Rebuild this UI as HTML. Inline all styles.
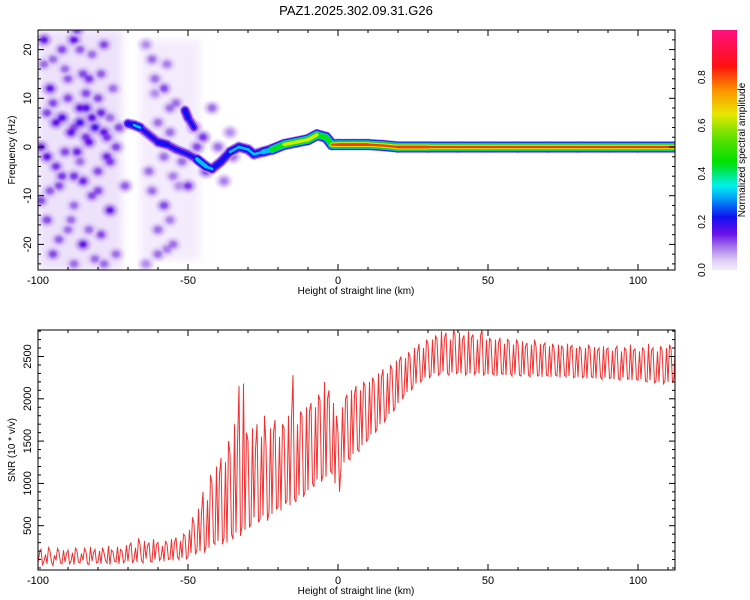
<!DOCTYPE html>
<html><head><meta charset="utf-8"><style>
html,body{margin:0;padding:0;background:#fff;}
svg{display:block;font-family:"Liberation Sans",sans-serif;}
</style></head><body>
<svg id="chart" width="750" height="600" viewBox="0 0 750 600">
<defs>
<filter id="blur" x="-50%" y="-50%" width="200%" height="200%"><feGaussianBlur stdDeviation="1.4"/></filter>
<filter id="blur2" x="-20%" y="-20%" width="140%" height="140%"><feGaussianBlur stdDeviation="4"/></filter>
<clipPath id="clipTop"><rect x="38" y="30" width="637" height="240"/></clipPath>
<clipPath id="clipBot"><rect x="38" y="330" width="637" height="240"/></clipPath>
<linearGradient id="cbar" x1="0" y1="1" x2="0" y2="0">
<stop offset="0" stop-color="#f4ecff"/><stop offset="0.04" stop-color="#e0cdf8"/>
<stop offset="0.1" stop-color="#a070e8"/><stop offset="0.15" stop-color="#6a10e8"/>
<stop offset="0.22" stop-color="#1010f0"/><stop offset="0.3" stop-color="#00a0f8"/>
<stop offset="0.35" stop-color="#00f0f0"/><stop offset="0.45" stop-color="#00e000"/>
<stop offset="0.55" stop-color="#60e000"/><stop offset="0.65" stop-color="#e8e800"/>
<stop offset="0.75" stop-color="#ff9000"/><stop offset="0.85" stop-color="#ff1010"/>
<stop offset="1" stop-color="#ff1080"/>
</linearGradient>
</defs>
<text x="356" y="15" font-size="13" text-anchor="middle">PAZ1.2025.302.09.31.G26</text>
<g id="top"></g>
<g id="bot"></g>
<g id="cb"></g>
</svg>
<script>
// ---- data ----
const snrStartKm = -100;
const snrLo = [60,40,80,50,70,30,90,60,50,70, 50,80,40,70,60,90,50,40,80,60, 70,50,90,60,40,80,70,50,60,90,
 80,60,100,70,90,60,110,80,70,100, 90,120,80,100,110,90,130,100,120,110, 140,180,160,220,200,180,260,240,300,280,
 320,280,360,300,400,340,420,380,500,450, 480,520,600,540,580,620,560,660,640,700, 720,680,760,800,740,820,780,860,840,900,
 920,1000,960,1050,1020,1100,1080,1150,1120,1000, 900,1200,1250,1300,1280,1350,1400,1380,1450,1500,
 1520,1580,1600,1650,1700,1720,1780,1820,1850,1900, 1950,2000,2050,2080,2100,2150,2180,2200,2220,2250,
 2250,2280,2300,2280,2300,2320,2300,2280,2310,2300, 2320,2300,2280,2310,2300,2290,2320,2300,2280,2300,
 2290,2300,2280,2270,2300,2290,2280,2300,2270,2290, 2280,2270,2290,2280,2260,2290,2270,2280,2260,2280,
 2270,2260,2280,2270,2250,2280,2260,2270,2250,2260, 2260,2250,2270,2240,2260,2250,2240,2260,2230,2250,
 2240,2250,2230,2240,2220,2250,2230,2240,2220,2230, 2220,2230,2210,2200,2220,2190,2210,2200,2180,2210,2200,2190,2250];
const snrHi = [180,220,160,240,200,150,230,190,210,170, 210,180,240,200,170,230,190,250,180,220, 200,240,180,260,210,190,250,220,200,270,
 260,300,240,350,280,320,260,300,340,280, 300,260,320,280,340,300,360,320,400,380, 450,600,520,700,650,900,800,1100,1000,1200,
 1100,1300,1250,1500,1350,1700,1450,2150,2180,1600, 1500,1650,1400,1700,1550,1800,1450,1650,1600,1750,
 1550,1700,1650,1800,1750,2280,1700,1850,1800,1900, 1850,1950,1900,2050,1980,2200,2000,2100,1950,1800,
 1600,1900,2000,2050,2100,2050,2150,2100,2200,2150, 2200,2250,2200,2300,2250,2350,2300,2400,2350,2450,
 2450,2500,2480,2550,2500,2600,2550,2650,2600,2700, 2650,2700,2750,2700,2800,2720,2780,2700,2820,2750,
 2780,2700,2750,2800,2720,2760,2700,2740,2820,2700, 2720,2680,2700,2660,2720,2650,2700,2680,2640,2700,
 2650,2680,2620,2660,2640,2700,2620,2650,2630,2660, 2620,2650,2600,2640,2620,2600,2650,2610,2630,2600,
 2620,2580,2600,2640,2590,2610,2570,2600,2620,2580, 2600,2570,2590,2620,2560,2600,2580,2640,2570,2590,
 2560,2600,2580,2650,2570,2600,2560,2620,2580,2600,2640,2590,2700];
const ridgeKm  = [-70,-68,-66,-63,-60,-57,-54,-50,-47,-44,-42,-39,-36,-33,-30,-28,-25,-22,-18,-14,-10,-7,-4,-2,0,5,10,15,20,30,40,50,60,70,80,90,100,112];
const ridgeHz  = [4.8,4.5,4,2.5,1,0.5,-0.5,-1.5,-2.5,-4,-4.5,-3,-1,0,-0.5,-1.5,-1,-0.5,0.5,1,1.5,2.5,2,0.5,0.5,0.5,0.5,0.3,0,0,0,0,0,0,0,0,0,0];
const ridgeAmp = [0.25,0.4,0.3,0.2,0.25,0.3,0.2,0.2,0.35,0.4,0.3,0.25,0.3,0.3,0.35,0.3,0.4,0.6,0.7,0.8,0.7,0.7,0.6,0.8,0.9,0.85,0.9,0.8,0.85,0.85,0.8,0.85,0.8,0.85,0.8,0.85,0.8,0.8];
const branchKm = [-51,-50,-48];
const branchHz = [7.5,6,4];
const branchAmp = [0.3,0.25,0.2];
const blobKm  = [-98,-95,-92,-88,-85,-82,-78,-96,-90,-86,-80,-75,-94,-88,-82,-78,-84,-91,-97,-86,-80,-93,-88,-82,-76,-97,-90,-85,-79,-95,-88,-74,-73,-76,
 -62,-58,-60,-56,-63,-58,-55,-60,-52,-56,-48,-45,-40,-35,-99,-83,-71,-92,-77,-87,
 -86,-84,-89,-81,-79,-92,-95,-83,-77,-87,-90,-98,-94,-80,-85,-89,-76,-93,-99,-81,-88,-84,-96,-78,-91,-86,-74,-97,-83,-79,
 -64,-61,-57,-54,-59,-62,-56,-53,-60,-64,-58,-55,-50,-47,-44,-38,-42,-36,-61,-57];
const blobHz  = [22,18,20,22,15,19,21,12,10,8,10,12,5,4,6,3,2,-1,-2,-3,-5,-8,-12,-10,-13,-15,-17,-20,-18,-22,-24,-22,4,6,
 18,12,5,8,-5,-12,-20,-22,-3,3,4,2,0,-2,0,14,-8,-6,-2,24,
 5,8,3,4,7,6,9,1,2,-1,14,17,-4,-9,-7,-15,-3,-19,-11,-23,-6,11,-9,-24,16,20,0,7,-17,15,
 21,14,17,9,1,-9,-15,-8,-17,-24,-2,-6,-8,0,-5,-7,8,3,11,-21];
const blobAmp = [0.15,0.1,0.12,0.15,0.12,0.1,0.12,0.15,0.12,0.15,0.12,0.1,0.15,0.12,0.15,0.15,0.13,0.12,0.15,0.1,0.12,0.12,0.1,0.12,0.15,0.12,0.1,0.15,0.12,0.12,0.1,0.1,0.12,0.1,
 0.1,0.12,0.1,0.1,0.1,0.12,0.1,0.1,0.1,0.1,0.12,0.13,0.1,0.1,0.14,0.13,0.11,0.13,0.14,0.12,
 0.17,0.16,0.15,0.17,0.14,0.16,0.12,0.15,0.13,0.14,0.11,0.1,0.13,0.12,0.14,0.1,0.13,0.11,0.12,0.1,0.13,0.12,0.11,0.1,0.1,0.11,0.12,0.12,0.1,0.11,
 0.08,0.1,0.09,0.1,0.08,0.1,0.09,0.08,0.1,0.08,0.1,0.09,0.13,0.12,0.13,0.09,0.1,0.08,0.08,0.09];
const xTicks = [-100,-50,0,50,100];
const topYTicks = [-20,-10,0,10,20];
const botYTicks = [500,1000,1500,2000,2500];
const cbTicks = [0.0,0.2,0.4,0.6,0.8];

// ---- scales ----
const X0=38,X1=675;
const xS = km => 38 + (km+100)*3;
const yTop = hz => 147 - hz*4.87;
const yBot = v => 568 - v*0.0846;
const NS='http://www.w3.org/2000/svg';
function mk(tag, attrs, parent){const e=document.createElementNS(NS,tag);for(const k in attrs)e.setAttribute(k,attrs[k]);parent.appendChild(e);return e;}
const stops=[[0,[244,236,255]],[0.04,[224,205,248]],[0.1,[160,112,232]],[0.15,[106,16,232]],[0.22,[16,16,240]],[0.3,[0,160,248]],[0.35,[0,240,240]],[0.45,[0,224,0]],[0.55,[96,224,0]],[0.65,[232,232,0]],[0.75,[255,144,0]],[0.85,[255,16,16]],[1,[255,16,128]]];
function col(a){for(let i=1;i<stops.length;i++){if(a<=stops[i][0]){const [a0,c0]=stops[i-1],[a1,c1]=stops[i];const t=(a-a0)/(a1-a0);return 'rgb('+c0.map((c,j)=>Math.round(c+(c1[j]-c)*t)).join(',')+')';}}return 'rgb(255,16,128)';}

const topG=document.getElementById('top'), botG=document.getElementById('bot'), cbG=document.getElementById('cb');

// ---- spectrogram ----
const g=mk('g',{'clip-path':'url(#clipTop)'},topG);
const wash=mk('g',{filter:'url(#blur2)'},g);
const w1=mk('rect',{x:xS(-100),y:30,width:xS(-72)-xS(-100),height:240,fill:'#eee2fb'},wash);


const w2=mk('rect',{x:xS(-66),y:40,width:xS(-46)-xS(-66),height:220,fill:'#f4ecfc'},wash);


const bg=mk('g',{filter:'url(#blur)'},g);
for(let i=0;i<blobKm.length;i++){
  const c=mk('ellipse',{cx:xS(blobKm[i]),cy:yTop(blobHz[i]),rx:8,ry:7,fill:col(blobAmp[i]*0.4)},bg);
  
  
}
for(let i=0;i<blobKm.length;i++){
  const d=mk('ellipse',{cx:xS(blobKm[i]),cy:yTop(blobHz[i]),rx:4.5,ry:4,fill:col(blobAmp[i])},bg);
  
  
}
function drawRidge(kms,hzs,amps,name){
  const rg=mk('g',{},g);
  
  
  const levels=[0.03,0.1,0.18,0.28,0.4,0.6,0.78];
  for(const lv of levels){
    for(let i=0;i<kms.length-1;i++){
      const a=Math.min(amps[i],amps[i+1]);
      if(a<=lv) continue;
      const w=2+10*(a-lv)/a;
      const s=mk('line',{x1:xS(kms[i]),y1:yTop(hzs[i]),x2:xS(kms[i+1]),y2:yTop(hzs[i+1]),stroke:col(lv+0.04),'stroke-width':w,'stroke-linecap':'round'},rg);
      
      
    }
  }
}
drawRidge(ridgeKm,ridgeHz,ridgeAmp,'main-ridge');
drawRidge(branchKm,branchHz,branchAmp,'upper-branch');
const fr=mk('rect',{x:38,y:30,width:637,height:240,fill:'none',stroke:'#000','stroke-width':1},topG);



// ---- axes helper ----
function axes(parent,yT,yB,ys,yTicks,yMinorStep,yMin,yMax,ylabel,ylabelX){
  for(let k=-100;k<=112;k+=10){
    const major=k%50===0, L=major?6:3;
    mk('line',{x1:xS(k),x2:xS(k),y1:yB,y2:yB-L,stroke:'#000'},parent);
    mk('line',{x1:xS(k),x2:xS(k),y1:yT,y2:yT+L,stroke:'#000'},parent);
  }
  for(const k of xTicks){
    const t=mk('text',{x:xS(k),y:yB+14,'font-size':11,'text-anchor':'middle'},parent);
    t.textContent=String(k);
    
    
  }
  for(let v=Math.ceil(yMin/yMinorStep)*yMinorStep;v<=yMax;v+=yMinorStep){
    const y=ys(v); if(y<yT||y>yB) continue;
    const major=yTicks.includes(v), L=major?6:3;
    mk('line',{x1:X0,x2:X0+L,y1:y,y2:y,stroke:'#000'},parent);
    mk('line',{x1:X1,x2:X1-L,y1:y,y2:y,stroke:'#000'},parent);
  }
  for(const v of yTicks){
    const t=mk('text',{x:0,y:0,'font-size':11,'text-anchor':'middle',transform:`translate(${ylabelX},${ys(v)}) rotate(-90)`},parent);
    t.textContent=String(v);
    
    
  }
  const xt=mk('text',{x:356,y:yB+24,'font-size':10,'text-anchor':'middle'},parent);
  xt.textContent='Height of straight line (km)';
  
  
  const yt=mk('text',{x:0,y:0,'font-size':10,'text-anchor':'middle',transform:`translate(15,${(yT+yB)/2}) rotate(-90)`},parent);
  yt.textContent=ylabel;
  
  
}
axes(topG,30,270,yTop,topYTicks,2,-25,25,'Frequency (Hz)',31);

// ---- SNR ----
const bg2=mk('g',{'clip-path':'url(#clipBot)'},botG);
let d='';
for(let i=0;i<snrLo.length;i++){
  const km=snrStartKm+i;
  const flip=(i%3===1);
  const a=flip?snrHi[i]:snrLo[i], b=flip?snrLo[i]:snrHi[i];
  d+=(i===0?'M':'L')+xS(km).toFixed(1)+','+yBot(a).toFixed(1)+' L'+xS(km+0.5).toFixed(1)+','+yBot(b).toFixed(1)+' ';
}
const ln=mk('path',{d:d,fill:'none',stroke:'#f03030','stroke-width':1},bg2);


const fr2=mk('rect',{x:38,y:330,width:637,height:240,fill:'none',stroke:'#000','stroke-width':1},botG);


axes(botG,330,570,yBot,botYTicks,100,0,2800,'SNR (10 * v/v)',31);

// ---- colorbar ----
const cr=mk('rect',{x:712,y:30,width:25,height:240,fill:'url(#cbar)'},cbG);


const cbY=v=>270-v*241;
for(const v of cbTicks){
  const t=mk('text',{x:0,y:0,'font-size':10,'text-anchor':'middle',transform:`translate(705,${cbY(v)}) rotate(-90)`},cbG);
  t.textContent=v.toFixed(1);
  
  
}
const cl=mk('text',{x:0,y:0,'font-size':10,'text-anchor':'middle',transform:'translate(745,150) rotate(-90)'},cbG);
cl.textContent='Normalized spectral amplitude';


</script>
</body></html>
